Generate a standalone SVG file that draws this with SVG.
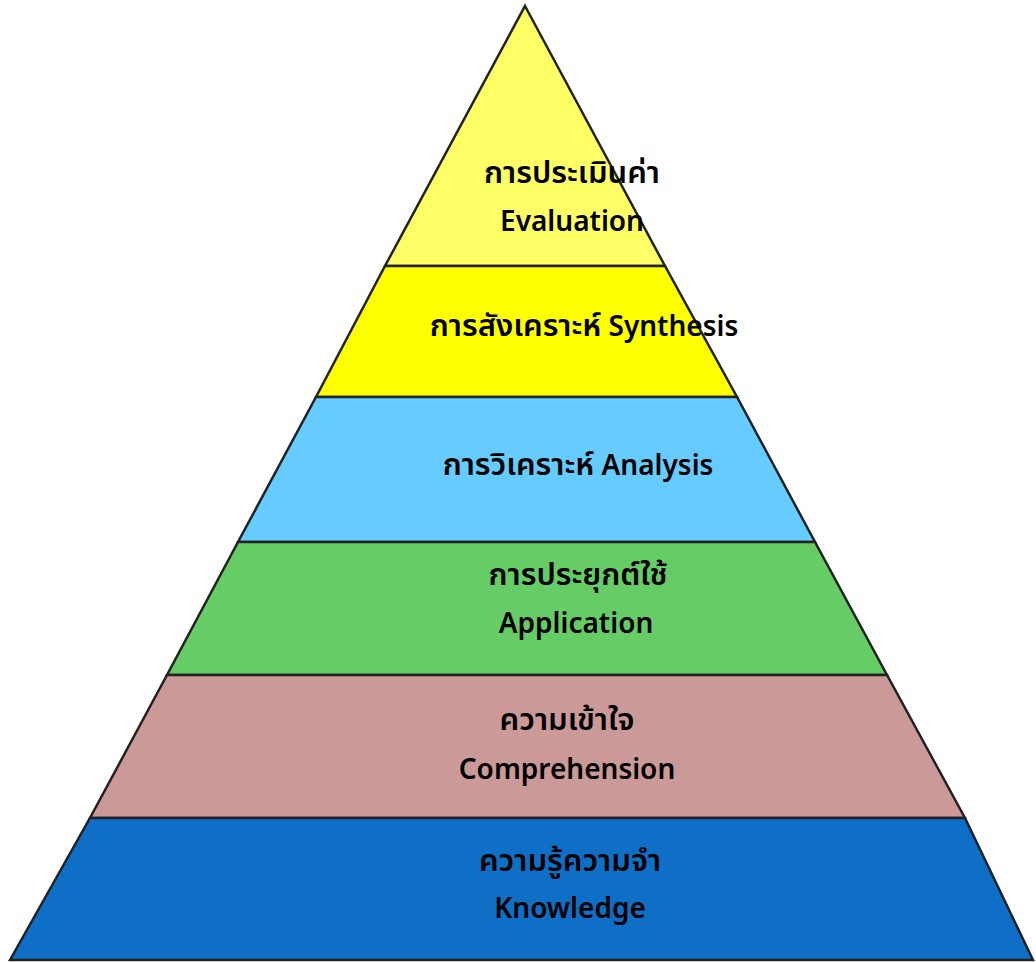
<svg xmlns="http://www.w3.org/2000/svg" width="1036" height="962" viewBox="0 0 1036 962">
<style>
.band{stroke:#222;stroke-width:2.5;stroke-linejoin:miter}
.t{font-family:"Noto Sans","Noto Sans Thai","DejaVu Sans",sans-serif;font-size:28px;font-weight:600;fill:#000;text-anchor:middle}
.th{font-size:31px}
</style>
<rect width="1036" height="962" fill="#fff"/>
<g id="evaluation">
<polygon class="band" points="525,6 665,266 385,266" fill="#FFFF66"/>
<text class="t th" x="572" y="183">การประเมินค่า</text>
<text class="t" x="572" y="231">Evaluation</text>
</g>
<g id="synthesis">
<polygon class="band" points="385,266 665,266 737,397 316,397" fill="#FFFF00"/>
<text class="t" x="584" y="336"><tspan class="th">การสังเคราะห์</tspan> Synthesis</text>
</g>
<g id="analysis">
<polygon class="band" points="316,397 737,397 815,542 238,542" fill="#66CCFF"/>
<text class="t" x="578" y="475"><tspan class="th">การวิเคราะห์</tspan> Analysis</text>
</g>
<g id="application">
<polygon class="band" points="238,542 815,542 887,675 167,675" fill="#66CC66"/>
<text class="t th" x="578" y="585">การประยุกต์ใช้</text>
<text class="t" x="576" y="633">Application</text>
</g>
<g id="comprehension">
<polygon class="band" points="167,675 887,675 965,818 90,818" fill="#CC9999"/>
<text class="t th" x="567" y="730">ความเข้าใจ</text>
<text class="t" x="567" y="779">Comprehension</text>
</g>
<g id="knowledge">
<polygon class="band" points="90,818 965,818 1033,960 10,960" fill="#0F6FC6"/>
<text class="t th" x="570" y="871">ความรู้ความจำ</text>
<text class="t" x="570" y="918">Knowledge</text>
</g>
<g id="connectors"></g>
</svg>
